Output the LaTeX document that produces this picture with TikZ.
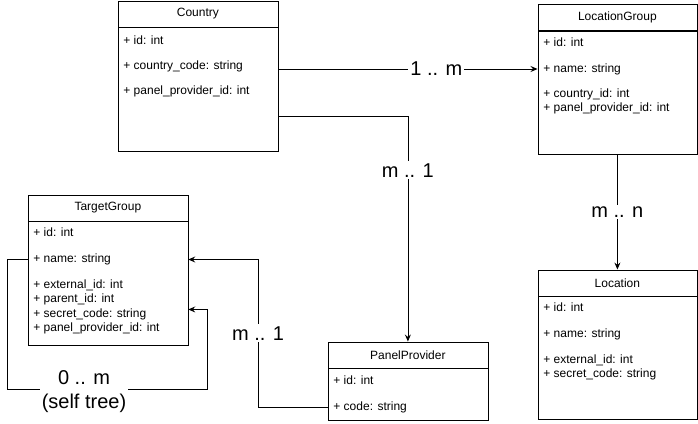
\documentclass[tikz,border=0pt]{standalone}
\usepackage{fontspec}
\setmainfont{Liberation Sans}
\usetikzlibrary{arrows.meta,positioning,calc}

\begin{document}
\begin{tikzpicture}[->,line width=0.8pt,>={Stealth[length=7pt,width=6pt,inset=2.5pt]},x=1pt,y=-1pt]
    \tikzstyle{head}=[draw, rectangle, minimum width=160pt, minimum height=26pt, inner sep=0pt, anchor=north west, font=\fontsize{12}{14}\selectfont]
    \tikzstyle{body}=[draw, rectangle, minimum width=160pt, inner sep=0pt]
    \tikzstyle{field}=[anchor=west, inner sep=0pt, text height=8.5pt, text depth=2.5pt, font=\fontsize{12}{14}\selectfont]
    \tikzstyle{mult}=[fill=white, inner sep=2pt, align=center, font=\fontsize{20}{24}\selectfont]

    \useasboundingbox (0,0) rectangle (698,423);

    % Country
    \node[head] (country) at (117.5,0.5) {Country};
    \node[body, minimum height=124pt, below=0pt of country] (countryb) {};
    \node[field] (c_id)   at (123,41.5) {+ id: int};
    \node[field] (c_code) at (123,66)   {+ country\_code: string};
    \node[field] (c_pp)   at (123,91)   {+ panel\_provider\_id: int};

    % LocationGroup
    \node[head, minimum width=159pt] (lgroup) at (537.5,4) {LocationGroup};
    \node[body, minimum width=159pt, minimum height=123pt, below=0pt of lgroup] (lgroupb) {};
    \node[field] (lg_id)   at (543,43.5)  {+ id: int};
    \node[field] (lg_name) at (543,69)    {+ name: string};
    \node[field] (lg_cid)  at (543,94)    {+ country\_id: int};
    \node[field] (lg_pp)   at (543,108.5) {+ panel\_provider\_id: int};

    % Location
    \node[head, minimum width=159pt] (location) at (537.5,269.5) {Location};
    \node[body, minimum width=159pt, minimum height=123pt, below=0pt of location] (locationb) {};
    \node[field] (l_id)   at (543,308.5) {+ id: int};
    \node[field] (l_name) at (543,334)   {+ name: string};
    \node[field] (l_ext)  at (543,360)   {+ external\_id: int};
    \node[field] (l_sec)  at (543,374.5) {+ secret\_code: string};

    % TargetGroup
    \node[head] (tgroup) at (27.5,194.5) {TargetGroup};
    \node[body, minimum height=123.5pt, below=0pt of tgroup] (tgroupb) {};
    \node[field] (tg_id)   at (33,233)   {+ id: int};
    \node[field] (tg_name) at (33,259.5) {+ name: string};
    \node[field] (tg_ext)  at (33,285.5) {+ external\_id: int};
    \node[field] (tg_par)  at (33,299.5) {+ parent\_id: int};
    \node[field] (tg_sec)  at (33,314)   {+ secret\_code: string};
    \node[field] (tg_pp)   at (33,328)   {+ panel\_provider\_id: int};

    % PanelProvider
    \node[head] (pprov) at (327.5,341.5) {PanelProvider};
    \node[body, minimum height=52pt, below=0pt of pprov] (pprovb) {};
    \node[field] (pp_id)   at (333,381) {+ id: int};
    \node[field] (pp_code) at (333,407) {+ code: string};

    \coordinate (pp_corner) at (258,407);
    \coordinate (st_left)   at (7,389);
    \coordinate (st_right)  at (207,389);

    \path
     (countryb.east |- lg_name) edge node[mult, pos=0.61] {1 .. m} (lgroupb.west |- lg_name)
     (lgroupb.south) edge node[mult] {m .. n} (location.north)
     ;
    \draw (countryb.east) ++(0,26.5) -| node[mult, pos=0.62] {m .. 1} (pprov.north);
    \draw (pprovb.west |- pp_code) -- (pp_corner) |- node[mult, pos=0.25] {m .. 1} (tgroupb.east |- tg_name);
    \draw (tgroupb.west |- tg_name) -| (st_left) -- node[mult, pos=0.385, yshift=-3pt] {0 .. m\\(self tree)} (st_right) |- ($(tgroupb.east)+(0,26)$);
\end{tikzpicture}
\end{document}
